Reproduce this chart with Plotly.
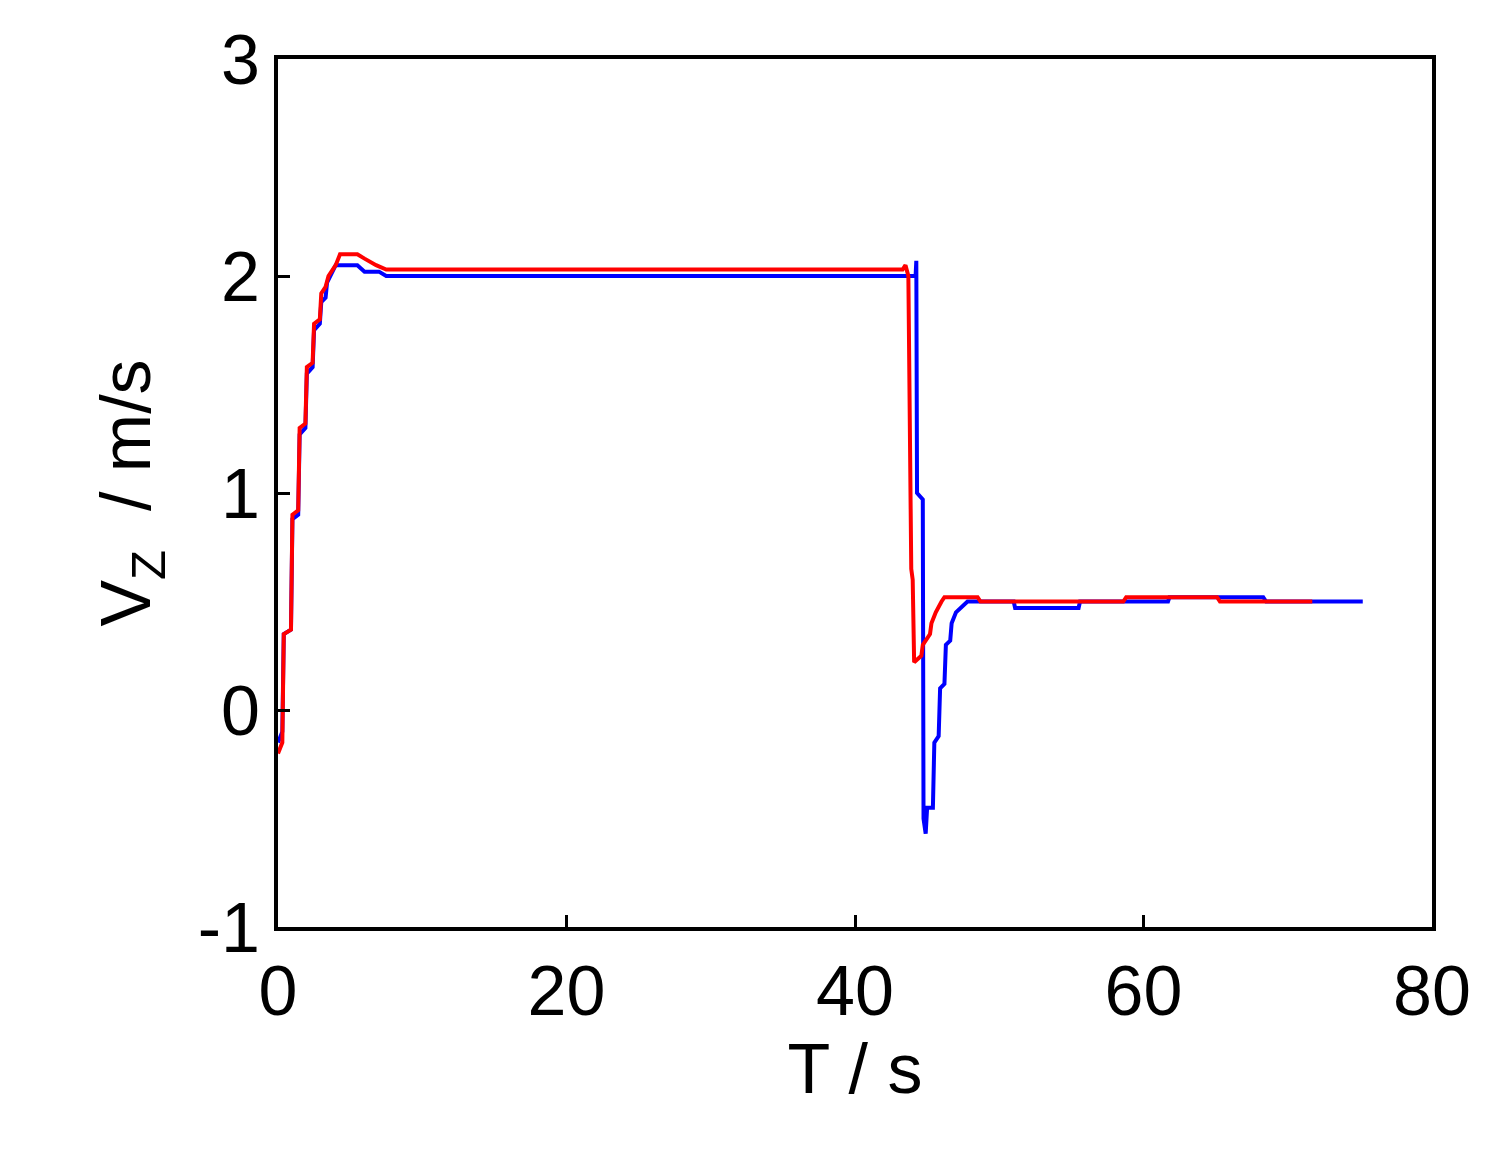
import plotly.graph_objects as go

blue_t = [0, 0.3, 0.4, 0.9, 1.0, 1.4, 1.5, 1.9, 2.0, 2.4, 2.5, 2.9, 3.0, 3.3, 3.4, 4.0, 5.5, 6.0, 7.0, 7.5, 44.2, 44.25, 44.3, 44.7, 44.75, 44.9, 45.0, 45.4, 45.5, 45.8, 45.9, 46.2, 46.3, 46.6, 46.7, 47.0, 47.8, 51.0, 51.1, 55.5, 55.6, 61.7, 61.8, 68.3, 68.5, 75.2]
blue_v = [-0.15, -0.1, 0.35, 0.37, 0.88, 0.9, 1.27, 1.3, 1.55, 1.58, 1.75, 1.78, 1.88, 1.9, 1.97, 2.05, 2.05, 2.02, 2.02, 2.0, 2.0, 2.07, 1.0, 0.97, -0.5, -0.57, -0.45, -0.45, -0.15, -0.12, 0.1, 0.12, 0.3, 0.32, 0.4, 0.45, 0.5, 0.5, 0.47, 0.47, 0.5, 0.5, 0.52, 0.52, 0.5, 0.5]

red_t = [0, 0.3, 0.4, 0.9, 1.0, 1.4, 1.5, 1.9, 2.0, 2.4, 2.5, 2.9, 3.0, 3.3, 3.5, 4.0, 4.3, 5.5, 6.0, 6.8, 7.5, 43.3, 43.5, 43.7, 43.9, 44.0, 44.1, 44.6, 44.7, 45.2, 45.3, 45.6, 46.0, 46.2, 48.5, 48.7, 58.6, 58.8, 65.1, 65.3, 71.7]
red_v = [-0.2, -0.15, 0.35, 0.37, 0.9, 0.92, 1.3, 1.32, 1.58, 1.6, 1.78, 1.8, 1.92, 1.95, 2.0, 2.05, 2.1, 2.1, 2.08, 2.05, 2.03, 2.03, 2.05, 2.0, 0.65, 0.6, 0.22, 0.25, 0.3, 0.35, 0.4, 0.45, 0.5, 0.52, 0.52, 0.5, 0.5, 0.52, 0.52, 0.5, 0.5]

x_ticks = [0, 20, 40, 60, 80]
y_ticks = [-1, 0, 1, 2, 3]
y_tick_text = ["-1", "0", "1", "2", "3"]

FONT = "Liberation Sans, Arial"
fig = go.Figure()
fig.add_trace(go.Scatter(x=blue_t, y=blue_v, mode="lines", line=dict(color="#0000ff", width=4)))
fig.add_trace(go.Scatter(x=red_t, y=red_v, mode="lines", line=dict(color="#ff0000", width=4)))

axis_common = dict(showline=True, linecolor="black", linewidth=4, mirror=True, ticks="inside",
                   ticklen=12, tickwidth=3, tickcolor="black", showgrid=False, zeroline=False,
                   tickfont=dict(family=FONT, size=70, color="black"))
fig.update_xaxes(range=[0, 80], tickvals=x_ticks,
                 title=dict(text="T / s", font=dict(family=FONT, size=70, color="black"), standoff=15),
                 **axis_common)
fig.update_yaxes(range=[-1, 3], tickvals=y_ticks, ticktext=y_tick_text,
                 title=dict(text="V<sub>Z</sub>  / m/s", font=dict(family=FONT, size=70, color="black"), standoff=25),
                 **axis_common)
fig.update_layout(width=1489, height=1155, showlegend=False, plot_bgcolor="white", paper_bgcolor="white",
                  margin=dict(l=270, r=65, t=47, b=236))
fig.write_html("out.html")
